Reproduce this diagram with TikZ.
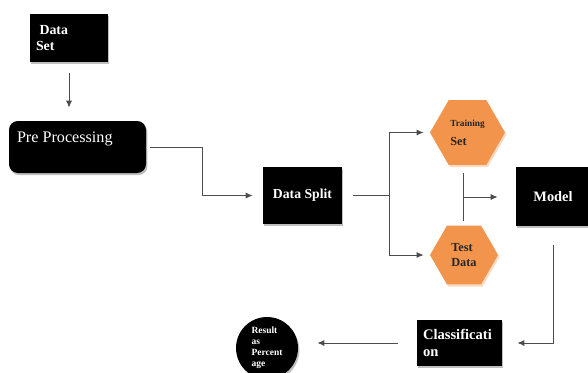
\documentclass[tikz,border=0pt]{standalone}
\usepackage{fontspec}
\setmainfont{Liberation Serif}
\usetikzlibrary{arrows.meta}
\usetikzlibrary{shapes.geometric}
\usetikzlibrary{shadows}
\definecolor{hexorange}{RGB}{242,148,76}
\tikzset{
    blackbox/.style={
        fill=black, text=white, inner sep=2pt,
        drop shadow={shadow xshift=0.8pt, shadow yshift=-1.2pt, fill=black!25, opacity=1}
    },
    hexbox/.style={
        regular polygon, regular polygon sides=6, fill=hexorange, text=black!85,
        inner sep=0pt, align=left,
        drop shadow={shadow xshift=0.8pt, shadow yshift=-1.2pt, fill=hexorange!35, opacity=1}
    },
    flowline/.style={draw=black!70, line width=0.55pt},
    flowarrow/.style={flowline, -{Latex[length=4pt,width=3.5pt]}}
}

\begin{document}
\begin{tikzpicture}[x=0.02cm, y=-0.02cm]

		\def\pxl{0.02cm}

		\useasboundingbox (0,0) rectangle (588,372);

		\node[blackbox, minimum width=78*\pxl, minimum height=48*\pxl, text width=1.32cm, align=left,
			font=\bfseries\fontsize{7.9}{9}\selectfont] (dataset) at (69,38) {\hspace*{2pt}Data\\Set};

		\node[blackbox, rounded corners=5pt, minimum width=137*\pxl, minimum height=52*\pxl,
			label={[anchor=north west, text=white, inner sep=0pt, xshift=8*\pxl, yshift=-11*\pxl,
			font=\fontsize{9.2}{11}\selectfont]north west:Pre Processing}] (prep) at (77.5,147) {};

		\node[blackbox, minimum width=79*\pxl, minimum height=57*\pxl,
			font=\bfseries\fontsize{7.8}{9}\selectfont] (split) at (302.5,195.5) {Data Split};

		\node[hexbox, minimum size=75*\pxl, font=\bfseries] (train) at (467.5,132.5)
			{{\fontsize{5.3}{6.5}\selectfont Training}\\[-1pt]{\fontsize{7}{8}\selectfont Set}};

		\node[hexbox, minimum size=68*\pxl, font=\bfseries\fontsize{7}{8.5}\selectfont] (test) at (464,255) {Test\\Data};

		\node[blackbox, minimum width=74*\pxl, minimum height=59*\pxl,
			font=\bfseries\fontsize{8.2}{9}\selectfont] (model) at (553,196.5) {Model};

		\node[blackbox, minimum width=85*\pxl, minimum height=46*\pxl, text width=1.46cm, align=left,
			font=\bfseries\fontsize{8.3}{10}\selectfont] (class) at (459.5,343) {Classificati\\on};

		\node[blackbox, circle, minimum size=62*\pxl, inner sep=0pt, align=left,
			font=\bfseries\fontsize{5.4}{6.3}\selectfont] (result) at (267,348) {Result\\as\\Percent\\age};

		\coordinate (bend) at (202,147);
		\coordinate (fork) at (389,195.5);
		\coordinate (join) at (463,197);

		\draw[flowarrow, shorten <=11*\pxl, shorten >=13*\pxl] (dataset.south) -- (dataset.south |- prep.north);

		\draw[flowarrow, shorten >=10*\pxl] ([xshift=4*\pxl]prep.east) -- (bend) |- (split.west);

		\draw[flowline, shorten <=11*\pxl] (split.east) -- (fork);
		\draw[flowarrow, shorten >=6*\pxl] (fork) |- (train.west);
		\draw[flowarrow, shorten >=6*\pxl] (fork) |- (test.west);

		\draw[flowline, shorten <=8*\pxl, shorten >=4*\pxl] (join |- train.south) -- (join |- test.north);
		\draw[flowarrow, shorten >=18*\pxl] (join) -- (join -| model.west);

		\draw[flowarrow, shorten <=19*\pxl, shorten >=15*\pxl] (model.south) |- (class.east);

		\draw[flowarrow, shorten <=19*\pxl, shorten >=19*\pxl] (class.west) -- (class.west -| result.east);

\end{tikzpicture}
\end{document}
